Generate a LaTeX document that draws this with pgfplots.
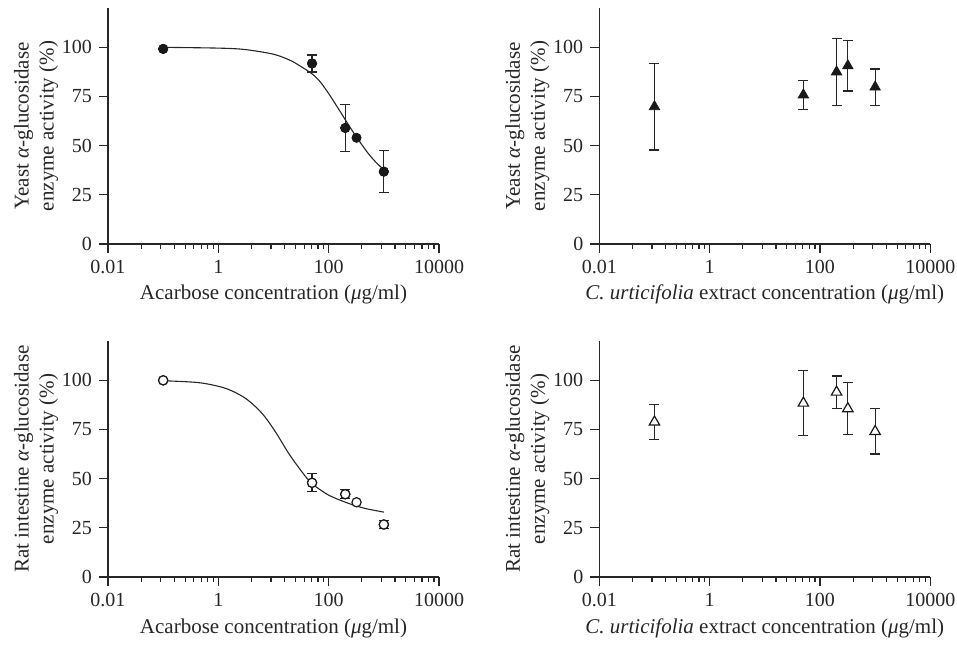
\documentclass[border=0pt]{standalone}
\usepackage{fontspec}
\setmainfont{Liberation Serif}
\usepackage{pgfplots}
\usepackage{pgfplotstable}
\pgfplotsset{compat=1.18}

% x = concentration (ug/ml), y = activity (%), e = error
\pgfplotstableread{
x y e
0.1 99.2 0
50 91.8 4.3
200 59.0 12.1
320 54.0 0
1000 36.8 10.7
}\yeastacarb
\pgfplotstableread{
x y
0.1 100
1 99.6
3 98.9
10 96.5
20 93.4
30 90.6
50 86.5
70 82.5
100 76.5
150 68.8
200 63.2
300 55.5
500 46.7
700 41.9
1000 37.7
}\yeastfit
\pgfplotstableread{
x y e
0.1 69.8 22.0
50 75.8 7.5
200 87.5 17.0
320 90.6 12.8
1000 79.8 9.2
}\yeastextract
\pgfplotstableread{
x y e
0.1 100 0
50 47.9 4.6
200 42.1 2.2
320 38.0 0
1000 26.7 2.2
}\ratacarb
\pgfplotstableread{
x y
0.098 99.8
0.45 98.8
1.36 95.9
3.12 90.8
6.2 83.2
10.8 73.9
18.8 62.9
32.7 53.5
49.4 47.6
99 41.7
226 37.5
453 34.9
1000 33.0
}\ratfit
\pgfplotstableread{
x y e
0.1 78.8 9.0
50 88.4 16.5
200 94.0 8.2
320 85.6 13.3
1000 74.0 11.5
}\ratextract

\pgfkeys{/pgf/number format/assume math mode=true}
\pgfplotsset{
  every axis/.append style={
    scale only axis,
    width=165.5pt, height=118pt,
    xmin=0.01, xmax=10000, ymin=0, ymax=120,
    axis x line*=bottom, axis y line*=left,
    axis line style={line width=0.65pt, black!85},
    xtick={0.01,1,100,10000},
    xticklabels={0.01,1,100,10000},
    minor xtick={0.04,0.09,0.16,0.25,0.36,0.49,0.64,0.81,
                 4,9,16,25,36,49,64,81,
                 400,900,1600,2500,3600,4900,6400,8100},
    ytick={0,25,50,75,100},
    tick align=outside,
    major tick length=4.5pt, minor tick length=2.5pt,
    tick style={line width=0.6pt, black!85},
    tick label style={font=\fontsize{10}{12}\selectfont, text=black!85},
    label style={font=\fontsize{10.5}{12.5}\selectfont, text=black!85},
    ylabel style={align=center, inner sep=0pt,
      at={(axis description cs:-0.285,0.5)}, anchor=north},
    xlabel style={at={(axis description cs:0.5,0)}, anchor=base, yshift=-28pt},
    clip=false,
  },
}

\begin{document}
\begin{tikzpicture}
\path[use as bounding box] (0,0) rectangle (478.5pt,324pt);

% top left: acarbose, yeast
\begin{axis}[xmode=log, at={(54pt,202pt)}, anchor=south west,
  ylabel={Yeast \textit{α}-glucosidase\\enzyme activity (\%)},
  xlabel={Acarbose concentration (\textit{μ}g/ml)}]
\addplot[black!85, line width=0.55pt, smooth, no marks] table[x=x, y=y] {\yeastfit};
\addplot[only marks, mark=*, mark size=2.3pt, black!90, skip coords between index={3}{4},
  error bars/.cd, y dir=both, y explicit,
  error bar style={line width=0.6pt, black!85},
  error mark options={rotate=90, mark size=2.5pt, line width=0.6pt, black!85}]
  table[x=x, y=y, y error=e] {\yeastacarb};
\addplot[only marks, mark=*, mark size=2.3pt, black!90] table[x=x, y=y] {\yeastacarb};
\end{axis}

% top right: extract, yeast
\begin{axis}[xmode=log, at={(299.65pt,202pt)}, anchor=south west,
  ylabel={Yeast \textit{α}-glucosidase\\enzyme activity (\%)},
  xlabel={\textit{C. urticifolia} extract concentration (\textit{μ}g/ml)}]
\addplot[only marks, mark=triangle*, mark size=3pt, black!90,
  error bars/.cd, y dir=both, y explicit,
  error bar style={line width=0.6pt, black!85},
  error mark options={rotate=90, mark size=2.5pt, line width=0.6pt, black!85}]
  table[x=x, y=y, y error=e] {\yeastextract};
\end{axis}

% bottom left: acarbose, rat intestine
\begin{axis}[xmode=log, at={(54pt,35.5pt)}, anchor=south west,
  ylabel={Rat intestine \textit{α}-glucosidase\\enzyme activity (\%)},
  xlabel={Acarbose concentration (\textit{μ}g/ml)}]
\addplot[black!85, line width=0.55pt, smooth, no marks] table[x=x, y=y] {\ratfit};
\addplot[only marks, mark=*, mark size=2.3pt, black!90, mark options={fill=white, line width=0.6pt},
  skip coords between index={3}{4},
  error bars/.cd, y dir=both, y explicit,
  error bar style={line width=0.6pt, black!85},
  error mark options={rotate=90, mark size=2.5pt, line width=0.6pt, black!85}]
  table[x=x, y=y, y error=e] {\ratacarb};
\addplot[only marks, mark=*, mark size=2.3pt, black!90, mark options={fill=white, line width=0.6pt}] table[x=x, y=y] {\ratacarb};
\end{axis}

% bottom right: extract, rat intestine
\begin{axis}[xmode=log, at={(299.65pt,35.5pt)}, anchor=south west,
  ylabel={Rat intestine \textit{α}-glucosidase\\enzyme activity (\%)},
  xlabel={\textit{C. urticifolia} extract concentration (\textit{μ}g/ml)}]
\addplot[only marks, mark=triangle*, mark size=3pt, black!90, mark options={fill=white, line width=0.6pt},
  error bars/.cd, y dir=both, y explicit,
  error bar style={line width=0.6pt, black!85},
  error mark options={rotate=90, mark size=2.5pt, line width=0.6pt, black!85}]
  table[x=x, y=y, y error=e] {\ratextract};
\end{axis}
\end{tikzpicture}
\end{document}
